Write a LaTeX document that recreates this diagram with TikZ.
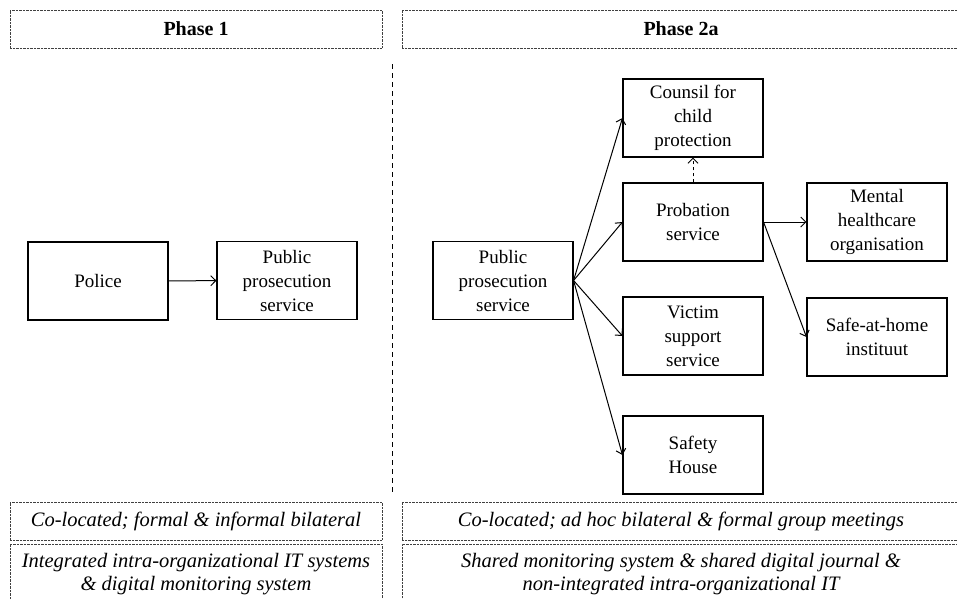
\documentclass[tikz,border=0pt]{standalone}
\usepackage{fontspec}
\setmainfont{Liberation Serif}
\usetikzlibrary{arrows.meta}
\begin{document}
\begin{tikzpicture}[x=1pt,y=-1pt,
  orgbox/.style={draw,line width=1.1pt,minimum width=140pt,minimum height=78pt,align=center,inner sep=2pt,font=\fontsize{19}{24}\selectfont},
  phasebox/.style={draw=darkgray,line width=1pt,dash pattern=on 0.7pt off 0.7pt,minimum height=38pt,inner sep=0pt,font=\fontsize{20}{24}\selectfont\bfseries},
  notebox/.style={draw=darkgray,line width=1pt,dash pattern=on 0.7pt off 0.7pt,align=center,inner sep=0pt,font=\fontsize{20.5}{23}\selectfont\itshape},
  link/.style={-{Straight Barb[length=5pt,width=10pt]},line width=1pt}]
\useasboundingbox (0,0) rectangle (957,598);
% headers
\node[phasebox,minimum width=372pt] (phaseone) at (196,29) {Phase 1};
\node[phasebox,minimum width=558pt] (phasetwo) at (681,29) {Phase 2a};
% divider
\coordinate (divtop) at (392,64);
\coordinate (divbot) at (392,495);
\draw[line width=1pt,dash pattern=on 5pt off 4pt] (divtop)--(divbot);
% phase 1
\node[orgbox] (police) at (98,281) {Police};
\node[orgbox] (ppsone) at (287,280.5) {Public\\prosecution\\service};
\draw[link] (police)--(ppsone);
% phase 2a
\node[orgbox] (ppstwo) at (503,280.5) {Public\\prosecution\\service};
\node[orgbox] (counsil) at (693,118) {Counsil for\\child\\protection};
\node[orgbox] (probation) at (693,222) {Probation\\service};
\node[orgbox] (victim) at (693,336) {Victim\\support\\service};
\node[orgbox] (safety) at (693,455) {Safety\\House};
\node[orgbox] (mental) at (877,222) {Mental\\healthcare\\organisation};
\node[orgbox] (safehome) at (877,337) {Safe-at-home\\instituut};
\draw[link] (ppstwo.east)--(counsil.west);
\draw[link] (ppstwo.east)--(probation.west);
\draw[link] (ppstwo.east)--(victim.west);
\draw[link] (ppstwo.east)--(safety.west);
\draw[link,dashed] (probation)--(counsil);
\draw[link] (probation.east)--(mental.west);
\draw[link] (probation.east)--(safehome.west);
% notes
\node[notebox,minimum width=372pt,minimum height=38pt] (contactone) at (196,521) {Co-located; formal \& informal bilateral};
\node[notebox,minimum width=372pt,minimum height=60pt] (itone) at (196,574) {Integrated intra-organizational IT systems\\\& digital monitoring system};
\node[notebox,minimum width=558pt,minimum height=38pt] (contacttwo) at (681,521) {Co-located; ad hoc bilateral \& formal group meetings};
\node[notebox,minimum width=558pt,minimum height=60pt] (ittwo) at (681,574) {Shared monitoring system \& shared digital journal \&\\non-integrated intra-organizational IT};
\end{tikzpicture}
\end{document}
